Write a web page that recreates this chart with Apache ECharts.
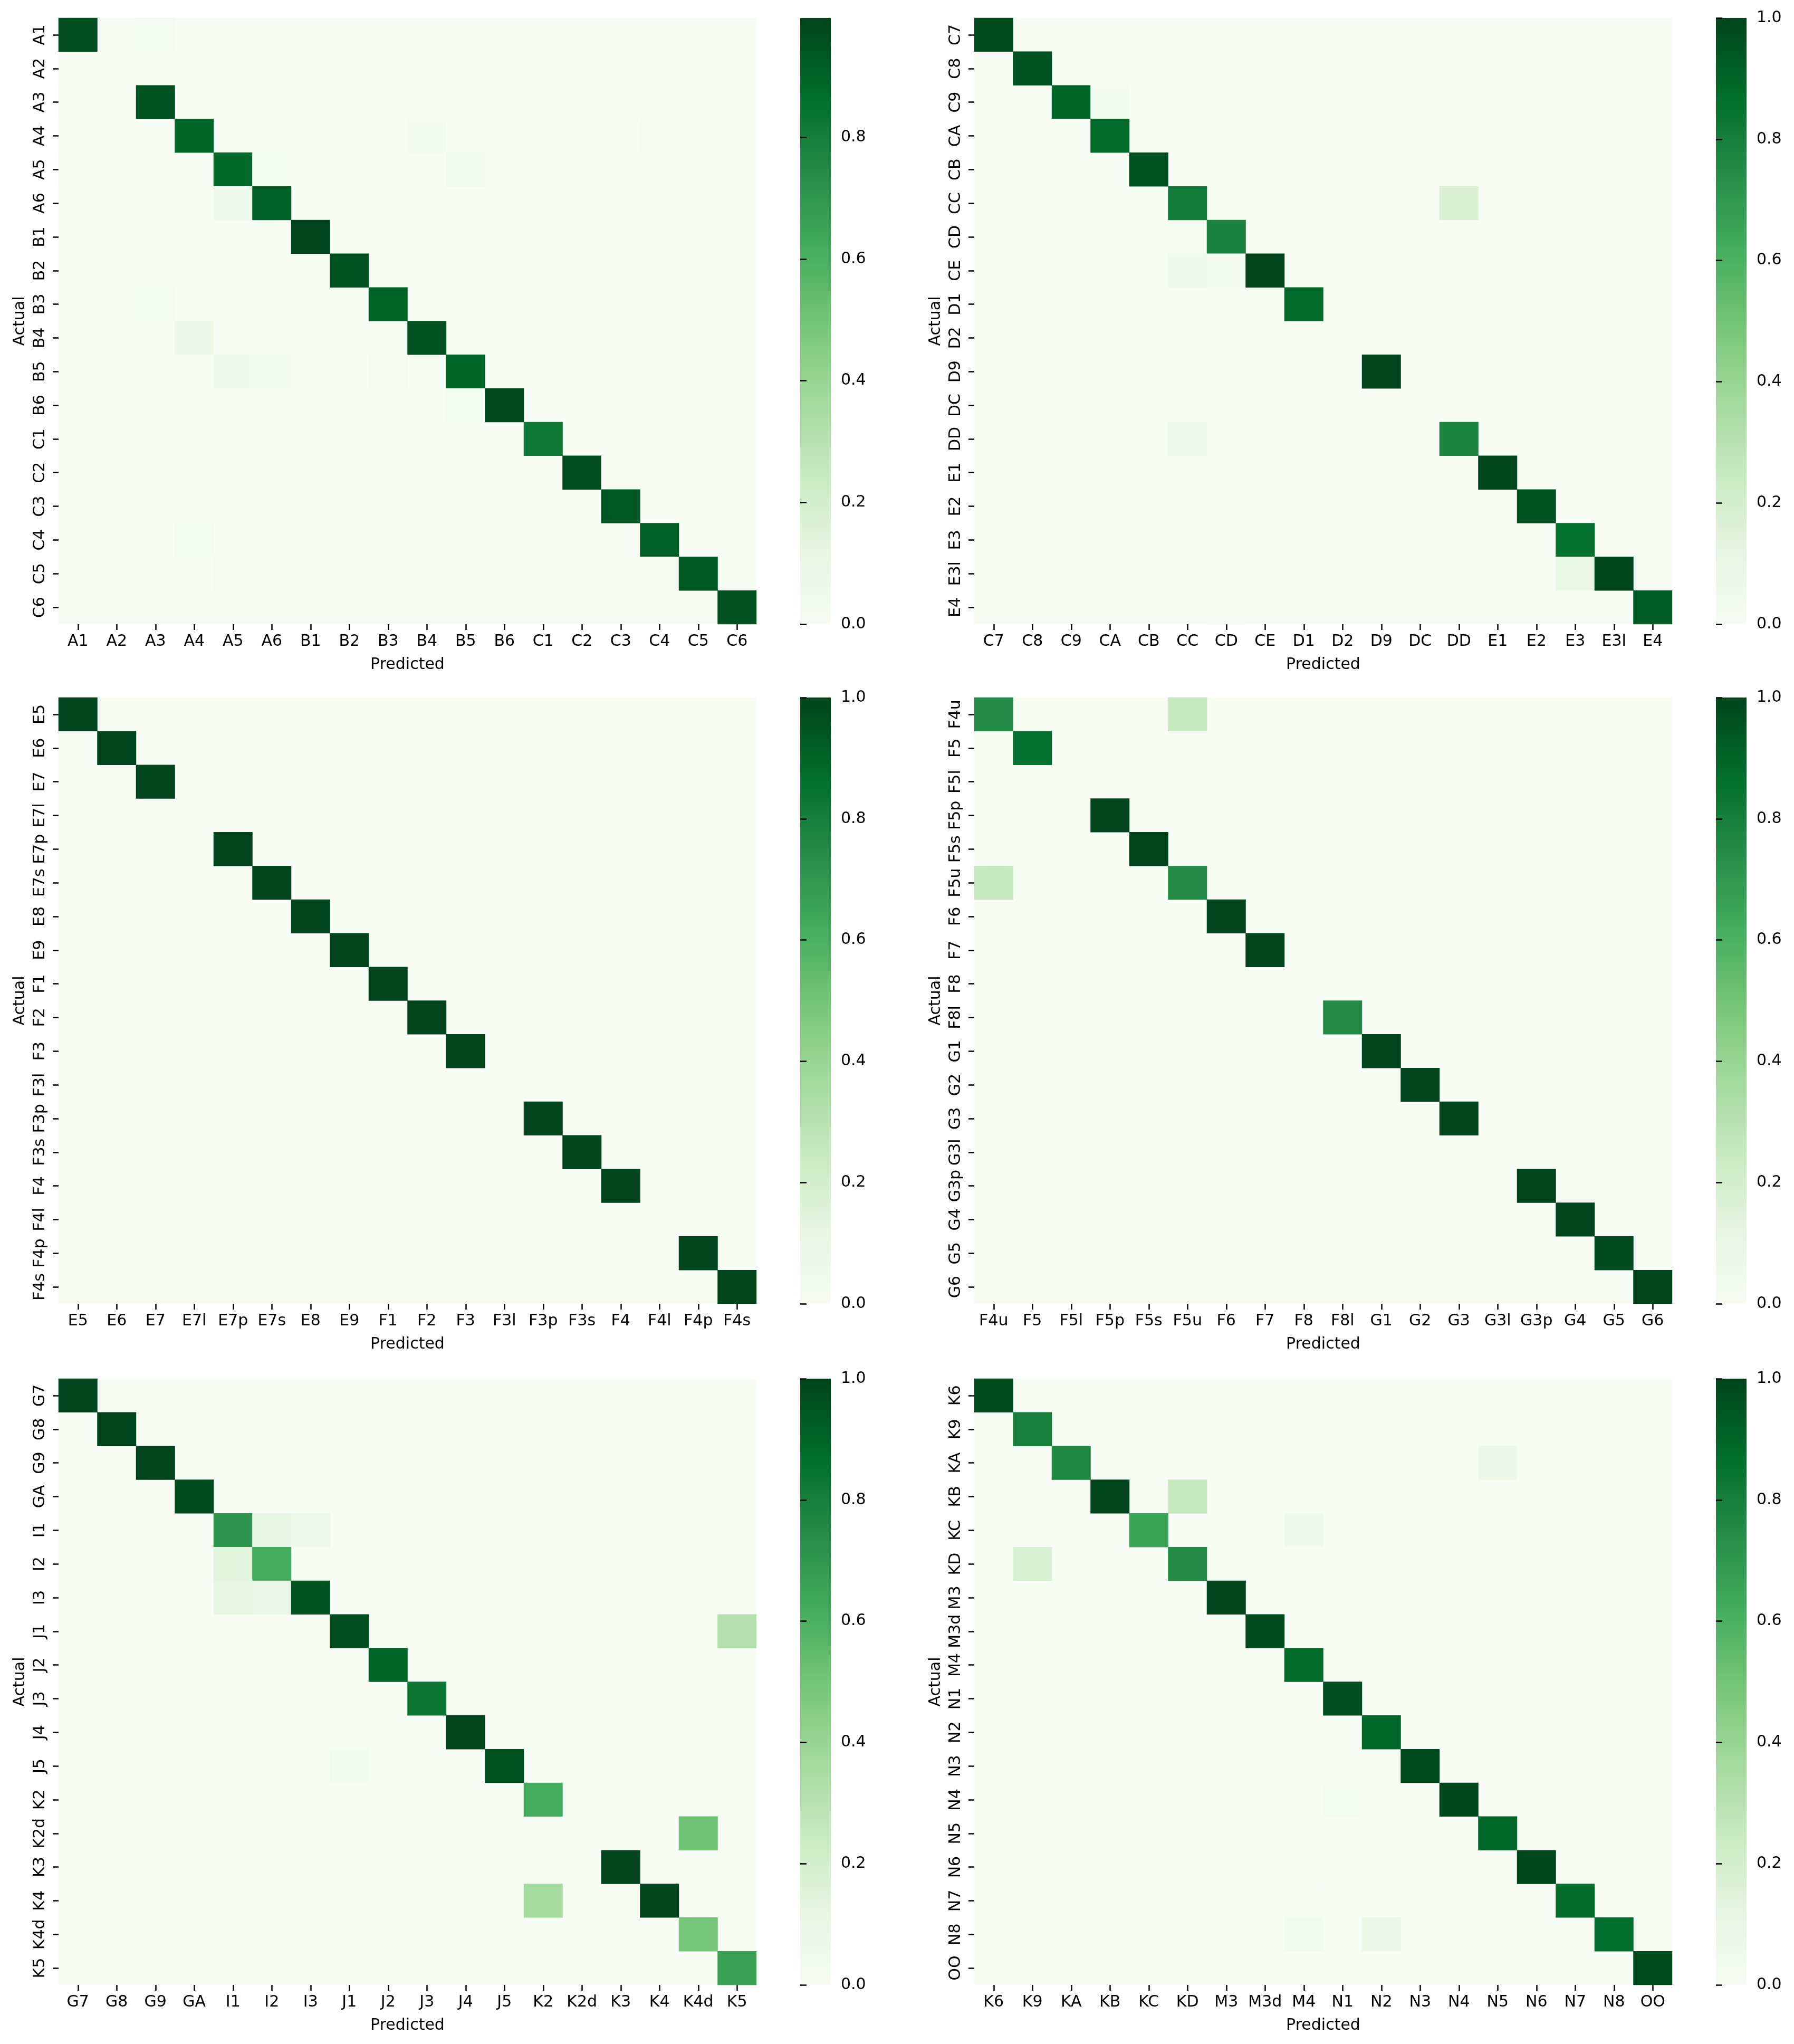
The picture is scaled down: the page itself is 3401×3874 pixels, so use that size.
<!DOCTYPE html>
<html>
<head>
<meta charset="utf-8">
<script src="https://cdn.jsdelivr.net/npm/echarts@6/dist/echarts.min.js"></script>
<style>
  html, body { margin: 0; padding: 0; background: #fff; }
  #chart { width: 3401px; height: 3874px; }
</style>
</head>
<body>
<div id="chart"></div>
<script>
// class labels for each of the six confusion matrices
const labels1 = ['A1', 'A2', 'A3', 'A4', 'A5', 'A6', 'B1', 'B2', 'B3', 'B4', 'B5', 'B6', 'C1', 'C2', 'C3', 'C4', 'C5', 'C6'];
const labels2 = ['C7', 'C8', 'C9', 'CA', 'CB', 'CC', 'CD', 'CE', 'D1', 'D2', 'D9', 'DC', 'DD', 'E1', 'E2', 'E3', 'E3l', 'E4'];
const labels3 = ['E5', 'E6', 'E7', 'E7l', 'E7p', 'E7s', 'E8', 'E9', 'F1', 'F2', 'F3', 'F3l', 'F3p', 'F3s', 'F4', 'F4l', 'F4p', 'F4s'];
const labels4 = ['F4u', 'F5', 'F5l', 'F5p', 'F5s', 'F5u', 'F6', 'F7', 'F8', 'F8l', 'G1', 'G2', 'G3', 'G3l', 'G3p', 'G4', 'G5', 'G6'];
const labels5 = ['G7', 'G8', 'G9', 'GA', 'I1', 'I2', 'I3', 'J1', 'J2', 'J3', 'J4', 'J5', 'K2', 'K2d', 'K3', 'K4', 'K4d', 'K5'];
const labels6 = ['K6', 'K9', 'KA', 'KB', 'KC', 'KD', 'M3', 'M3d', 'M4', 'N1', 'N2', 'N3', 'N4', 'N5', 'N6', 'N7', 'N8', 'OO'];

// non-zero cells: [actual, predicted, value]  (all other cells are 0)
const cells1 = [
  ['A1', 'A1', 0.97], ['A1', 'A3', 0.02],
  ['A3', 'A1', 0.015], ['A3', 'A3', 0.95], ['A3', 'B3', 0.01],
  ['A4', 'A4', 0.89], ['A4', 'B4', 0.03], ['A4', 'C4', 0.015],
  ['A5', 'A1', 0.015], ['A5', 'A5', 0.88], ['A5', 'A6', 0.02], ['A5', 'B5', 0.035],
  ['A6', 'A5', 0.05], ['A6', 'A6', 0.91],
  ['B1', 'B1', 0.996],
  ['B2', 'B2', 0.95],
  ['B3', 'A3', 0.02], ['B3', 'B3', 0.9],
  ['B4', 'A4', 0.07], ['B4', 'B4', 0.95],
  ['B5', 'A5', 0.05], ['B5', 'A6', 0.03], ['B5', 'B3', 0.015], ['B5', 'B5', 0.89],
  ['B6', 'B5', 0.02], ['B6', 'B6', 0.98],
  ['C1', 'C1', 0.82],
  ['C2', 'C2', 0.97], ['C2', 'C3', 0.005],
  ['C3', 'A3', 0.01], ['C3', 'C3', 0.94],
  ['C4', 'A4', 0.02], ['C4', 'B4', 0.01], ['C4', 'C4', 0.91],
  ['C5', 'A5', 0.015], ['C5', 'A6', 0.015], ['C5', 'C4', 0.01], ['C5', 'C5', 0.93],
  ['C6', 'C6', 0.96]
];
const cells2 = [
  ['C7', 'C7', 0.98],
  ['C8', 'C8', 0.95], ['C8', 'E4', 0.01],
  ['C9', 'C9', 0.9], ['C9', 'CA', 0.03],
  ['CA', 'C9', 0.01], ['CA', 'CA', 0.88],
  ['CB', 'CB', 0.96],
  ['CC', 'CC', 0.81], ['CC', 'DD', 0.17],
  ['CD', 'CD', 0.79],
  ['CE', 'CC', 0.05], ['CE', 'CD', 0.03], ['CE', 'CE', 1.0],
  ['D1', 'D1', 0.88],
  ['D9', 'D9', 1.0],
  ['DD', 'CC', 0.06], ['DD', 'DD', 0.78],
  ['E1', 'E1', 0.99],
  ['E2', 'E2', 0.96],
  ['E3', 'E3', 0.86],
  ['E3l', 'E3', 0.1], ['E3l', 'E3l', 0.99],
  ['E4', 'CD', 0.01], ['E4', 'E4', 0.93]
];
const cells3 = [
  ['E5', 'E5', 1.0], ['E6', 'E6', 1.0], ['E7', 'E7', 1.0],
  ['E7p', 'E7p', 1.0], ['E7s', 'E7s', 1.0], ['E8', 'E8', 1.0], ['E9', 'E9', 1.0],
  ['F1', 'F1', 1.0], ['F2', 'F2', 1.0], ['F3', 'F3', 1.0],
  ['F3p', 'F3p', 1.0], ['F3s', 'F3s', 1.0], ['F4', 'F4', 1.0],
  ['F4p', 'F4p', 1.0], ['F4s', 'F4s', 1.0]
];
const cells4 = [
  ['F4u', 'F4u', 0.75], ['F4u', 'F5u', 0.25],
  ['F5', 'F5', 0.86],
  ['F5p', 'F5p', 1.0],
  ['F5s', 'F5s', 1.0],
  ['F5u', 'F4u', 0.25], ['F5u', 'F5u', 0.75],
  ['F6', 'F6', 1.0],
  ['F7', 'F7', 1.0],
  ['F8l', 'F8l', 0.75],
  ['G1', 'G1', 1.0],
  ['G2', 'G2', 1.0],
  ['G3', 'G3', 1.0],
  ['G3p', 'G3p', 1.0],
  ['G4', 'G4', 1.0],
  ['G5', 'G5', 0.98],
  ['G6', 'G6', 1.0]
];
const cells5 = [
  ['G7', 'G7', 1.0], ['G8', 'G8', 1.0], ['G9', 'G9', 1.0], ['GA', 'GA', 0.98],
  ['I1', 'I1', 0.71], ['I1', 'I2', 0.12], ['I1', 'I3', 0.06],
  ['I2', 'I1', 0.14], ['I2', 'I2', 0.62],
  ['I3', 'I1', 0.11], ['I3', 'I2', 0.09], ['I3', 'I3', 0.95],
  ['J1', 'J1', 0.97], ['J1', 'K5', 0.31],
  ['J2', 'J2', 0.9],
  ['J3', 'J3', 0.83],
  ['J4', 'J4', 1.0],
  ['J5', 'J1', 0.04], ['J5', 'J5', 0.96],
  ['K2', 'K2', 0.62],
  ['K2d', 'K4d', 0.51],
  ['K3', 'K3', 1.0],
  ['K4', 'K2', 0.36], ['K4', 'K4', 1.0],
  ['K4d', 'K4d', 0.49],
  ['K5', 'K5', 0.66]
];
const cells6 = [
  ['K6', 'K6', 0.98],
  ['K9', 'K9', 0.8],
  ['KA', 'KA', 0.76], ['KA', 'N5', 0.07],
  ['KB', 'KB', 1.0], ['KB', 'KD', 0.25],
  ['KC', 'KC', 0.65], ['KC', 'M4', 0.05],
  ['KD', 'K9', 0.18], ['KD', 'KD', 0.75],
  ['M3', 'M3', 1.0],
  ['M3d', 'M3d', 0.98],
  ['M4', 'M4', 0.88],
  ['N1', 'N1', 0.97],
  ['N2', 'N2', 0.89],
  ['N3', 'N3', 0.98],
  ['N4', 'N1', 0.02], ['N4', 'N4', 0.99],
  ['N5', 'N5', 0.89],
  ['N6', 'N1', 0.005], ['N6', 'N4', 0.01], ['N6', 'N6', 0.99],
  ['N7', 'M4', 0.005], ['N7', 'N7', 0.88],
  ['N8', 'M4', 0.04], ['N8', 'N2', 0.07], ['N8', 'N8', 0.87],
  ['OO', 'OO', 0.98]
];

// colour bar ranges and ticks
const vmax = [0.996, 1.0, 1.0, 1.0, 1.0, 1.0];
const cbTicks1 = [0, 0.2, 0.4, 0.6, 0.8];
const cbTicks = [0, 0.2, 0.4, 0.6, 0.8, 1.0];

const greens = ['#f7fcf5', '#e5f5e0', '#c7e9c0', '#a1d99b', '#74c476', '#41ab5d', '#238b45', '#006d2c', '#00441b'];

const panels = [
  { labels: labels1, cells: cells1, ticks: cbTicks1 },
  { labels: labels2, cells: cells2, ticks: cbTicks },
  { labels: labels3, cells: cells3, ticks: cbTicks },
  { labels: labels4, cells: cells4, ticks: cbTicks },
  { labels: labels5, cells: cells5, ticks: cbTicks },
  { labels: labels6, cells: cells6, ticks: cbTicks }
];

const colLeft = [111, 1847];
const rowTop = [34, 1322, 2613];
const mapW = 1323;
const mapH = 1149;
const cbOffset = 1406; // colour bar left, relative to heatmap left
const cbW = 58;

const font = 'DejaVu Sans';
const txt = { color: '#000', fontSize: 30, fontFamily: font };
const tickStyle = { color: '#000', width: 2.5 };

// vertical gradient for the colour bars (bottom = 0, top = max)
const barFill = {
  type: 'linear', x: 0, y: 1, x2: 0, y2: 0,
  colorStops: greens.map((c, k) => ({ offset: k / (greens.length - 1), color: c }))
};

const chart = echarts.init(document.getElementById('chart'), null, { renderer: 'canvas' });

const grid = [], xAxis = [], yAxis = [], series = [], visualMap = [];

panels.forEach((p, i) => {
  const left = colLeft[i % 2];
  const top = rowTop[Math.floor(i / 2)];
  const cbLeft = left + cbOffset;

  // heatmap
  grid.push({
    left: left, top: top, width: mapW, height: mapH,
    show: true, backgroundColor: greens[0], borderWidth: 0
  });
  xAxis.push({
    type: 'category', gridIndex: 2 * i, data: p.labels, position: 'bottom',
    axisLine: { show: false },
    axisTick: { show: true, alignWithLabel: true, length: 11, lineStyle: tickStyle },
    axisLabel: Object.assign({ interval: 0, margin: 18 }, txt),
    splitLine: { show: false },
    name: 'Predicted', nameLocation: 'middle', nameGap: 62, nameTextStyle: txt
  });
  yAxis.push({
    type: 'category', gridIndex: 2 * i, data: p.labels, inverse: true,
    axisLine: { show: false },
    axisTick: { show: true, alignWithLabel: true, length: 11, lineStyle: tickStyle },
    axisLabel: Object.assign({ interval: 0, margin: 20, rotate: 90 }, txt),
    splitLine: { show: false },
    name: 'Actual', nameLocation: 'middle', nameGap: 58, nameRotate: 90, nameTextStyle: txt
  });
  series.push({
    type: 'heatmap', xAxisIndex: 2 * i, yAxisIndex: 2 * i,
    data: p.cells.map(c => [c[1], c[0], c[2]]),
    itemStyle: { borderWidth: 0 },
    emphasis: { disabled: true },
    progressive: 0
  });
  visualMap.push({
    type: 'continuous', seriesIndex: i, min: 0, max: vmax[i],
    inRange: { color: greens }, show: false
  });

  // colour bar with its ticks
  grid.push({
    left: cbLeft, top: top, width: cbW, height: mapH,
    show: true, backgroundColor: barFill, borderWidth: 0
  });
  xAxis.push({ type: 'value', gridIndex: 2 * i + 1, show: false, min: 0, max: 1 });
  yAxis.push({
    type: 'value', gridIndex: 2 * i + 1, position: 'right',
    min: 0, max: vmax[i],
    axisLine: { show: false },
    axisTick: { show: true, length: 12, lineStyle: tickStyle, customValues: p.ticks },
    axisLabel: Object.assign({ margin: 19, customValues: p.ticks, formatter: v => v.toFixed(1) }, txt),
    splitLine: { show: false }
  });
});

chart.setOption({
  backgroundColor: '#fff',
  animation: false,
  grid: grid,
  xAxis: xAxis,
  yAxis: yAxis,
  visualMap: visualMap,
  series: series
});
</script>
</body>
</html>
